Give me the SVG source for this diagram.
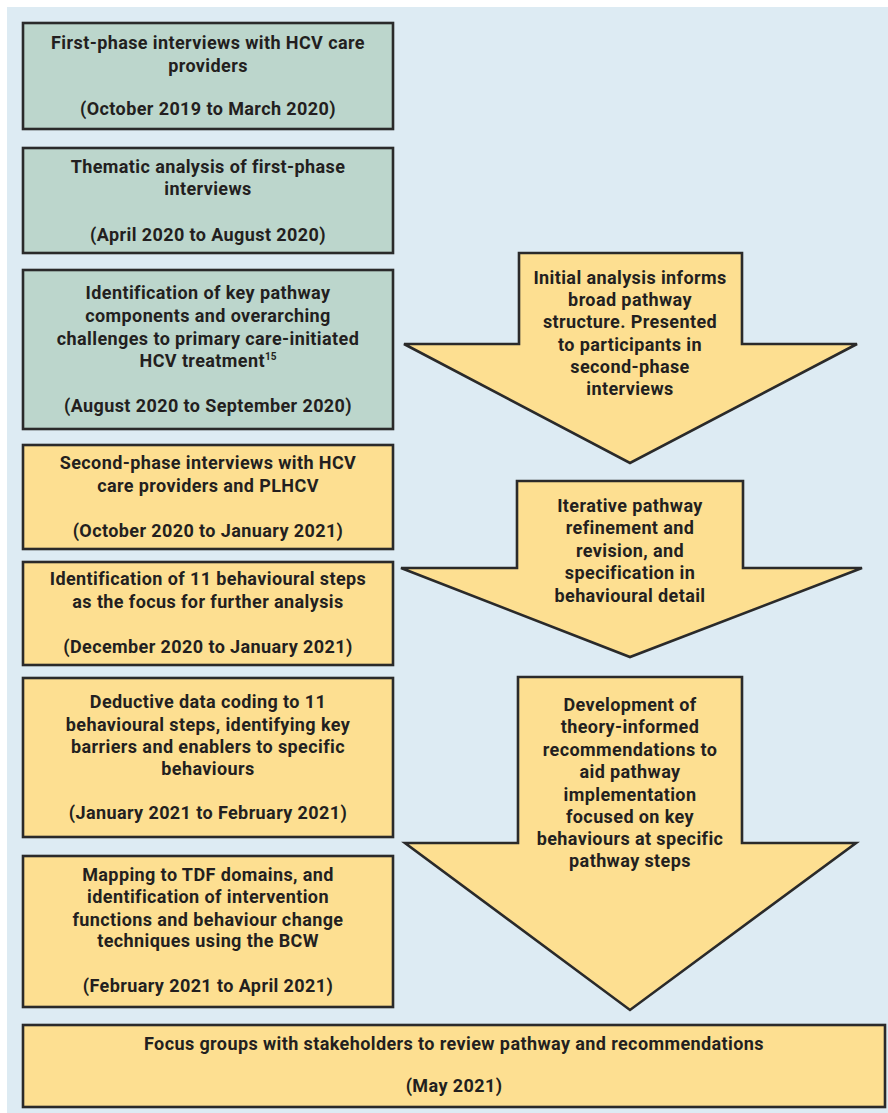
<svg xmlns="http://www.w3.org/2000/svg" width="888" height="1113" viewBox="0 0 888 1113">
<style>
.bg{fill:#ffffff}
.panel{fill:#ddebf3}
.g{fill:#bcd6cc;stroke:#2a2a2a;stroke-width:2.6}
.y{fill:#fddf91;stroke:#2a2a2a;stroke-width:2.6}
.ar{fill:#fddf91;stroke:#2a2a2a;stroke-width:2.6;stroke-linejoin:miter}
text{font-family:Roboto,"Liberation Sans",sans-serif;font-weight:bold;font-size:18px;letter-spacing:0.4px;fill:#231f20;text-anchor:middle}
.sup{font-size:10px;letter-spacing:0}
</style>
<rect class="bg" x="0" y="0" width="888" height="1113"/>
<rect class="panel" x="7" y="7" width="881" height="1106"/>
<g id="connectors">
<polygon class="ar" points="519,253 742,253 742,344 857,344 630,463 404,344 519,344"/>
<polygon class="ar" points="517,481 743,481 743,568 862,568 630,657 401,568 517,568"/>
<polygon class="ar" points="518,677 742,677 742,843 856,843 630,1010 405,843 518,843"/>
</g>
<g id="arrow1-label">
<text x="630" y="284">Initial analysis informs</text>
<text x="630" y="306">broad pathway</text>
<text x="630" y="328">structure. Presented</text>
<text x="630" y="351">to participants in</text>
<text x="630" y="373">second-phase</text>
<text x="630" y="395">interviews</text>
</g>
<g id="arrow2-label">
<text x="630" y="512">Iterative pathway</text>
<text x="630" y="534">refinement and</text>
<text x="630" y="557">revision, and</text>
<text x="630" y="579">specification in</text>
<text x="630" y="602">behavioural detail</text>
</g>
<g id="arrow3-label">
<text x="630" y="711">Development of</text>
<text x="630" y="733">theory-informed</text>
<text x="630" y="756">recommendations to</text>
<text x="630" y="778">aid pathway</text>
<text x="630" y="801">implementation</text>
<text x="630" y="823">focused on key</text>
<text x="630" y="845">behaviours at specific</text>
<text x="630" y="867">pathway steps</text>
</g>
<g id="n1">
<rect class="g" x="23" y="23" width="370" height="106"/>
<text x="208" y="49">First-phase interviews with HCV care</text>
<text x="208" y="72">providers</text>
<text x="208" y="115">(October 2019 to March 2020)</text>
</g>
<g id="n2">
<rect class="g" x="23" y="148" width="370" height="105"/>
<text x="208" y="173">Thematic analysis of first-phase</text>
<text x="208" y="195">interviews</text>
<text x="208" y="241">(April 2020 to August 2020)</text>
</g>
<g id="n3">
<rect class="g" x="23" y="270" width="370" height="159"/>
<text x="208" y="299">Identification of key pathway</text>
<text x="208" y="322">components and overarching</text>
<text x="208" y="345">challenges to primary care-initiated</text>
<text x="208" y="367">HCV treatment<tspan class="sup" dy="-7">15</tspan></text>
<text x="208" y="412">(August 2020 to September 2020)</text>
</g>
<g id="n4">
<rect class="y" x="23" y="445" width="370" height="104"/>
<text x="208" y="469">Second-phase interviews with HCV</text>
<text x="208" y="492">care providers and PLHCV</text>
<text x="208" y="537">(October 2020 to January 2021)</text>
</g>
<g id="n5">
<rect class="y" x="23" y="562" width="370" height="103"/>
<text x="208" y="585">Identification of 11 behavioural steps</text>
<text x="208" y="608">as the focus for further analysis</text>
<text x="208" y="653">(December 2020 to January 2021)</text>
</g>
<g id="n6">
<rect class="y" x="23" y="678" width="370" height="159"/>
<text x="208" y="708">Deductive data coding to 11</text>
<text x="208" y="731">behavioural steps, identifying key</text>
<text x="208" y="753">barriers and enablers to specific</text>
<text x="208" y="775">behaviours</text>
<text x="208" y="819">(January 2021 to February 2021)</text>
</g>
<g id="n7">
<rect class="y" x="23" y="856" width="370" height="151"/>
<text x="208" y="881">Mapping to TDF domains, and</text>
<text x="208" y="903">identification of intervention</text>
<text x="208" y="926">functions and behaviour change</text>
<text x="208" y="947">techniques using the BCW</text>
<text x="208" y="992">(February 2021 to April 2021)</text>
</g>
<g id="n8">
<rect class="y" x="23" y="1025" width="862" height="82"/>
<text x="454" y="1050">Focus groups with stakeholders to review pathway and recommendations</text>
<text x="454" y="1092">(May 2021)</text>
</g>
</svg>
